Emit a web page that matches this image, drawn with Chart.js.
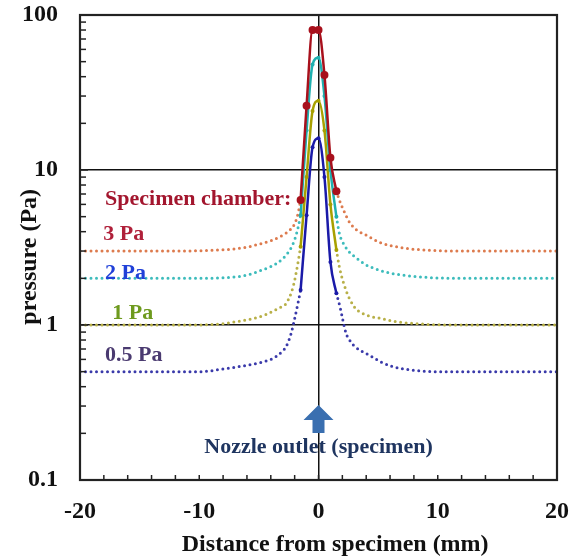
<!DOCTYPE html>
<html>
<head>
<meta charset="utf-8">
<script src="https://cdn.jsdelivr.net/npm/chart.js@4.4.1/dist/chart.umd.min.js"></script>
<style>
  body { margin: 0; background: #fff; }
  #wrap { width: 575px; height: 560px; }
</style>
</head>
<body>
<div id="wrap"><canvas id="pressureChart"></canvas></div>
<script>
// solid measured points around the nozzle (mm, Pa)
const solidX = [-1.5, -1, -0.5, 0, 0.5, 1, 1.5];
const solid3Pa = [6.4, 26, 80, 80, 41, 12, 7.3];
const solid2Pa = [5.1, 18, 48, 53, 30, 10, 5.0];
const solid1Pa = [3.2, 9, 24, 28, 18, 6, 3.05];
const solid05Pa = [1.68, 5.1, 14, 16, 9, 2.55, 1.6];

// dotted tails (left side, right side)
const tail3PaLx = [-20, -12, -9, -7, -6, -5, -4, -3, -2.4, -2, -1.7, -1.5];
const tail3PaLy = [3, 3, 3.03, 3.1, 3.18, 3.32, 3.5, 3.8, 4.1, 4.5, 5.3, 6.4];
const tail3PaRx = [1.5, 1.75, 2.2, 2.6, 3.2, 4, 5.2, 7, 9.5, 12, 20];
const tail3PaRy = [7.3, 6.4, 5.3, 4.6, 4.1, 3.8, 3.4, 3.15, 3.03, 3, 3];

const tail2PaLx = [-20, -10, -8, -6.6, -5.5, -4.9, -4, -3.5, -3, -2.4, -2, -1.7, -1.5];
const tail2PaLy = [2, 2, 2.02, 2.06, 2.15, 2.24, 2.38, 2.5, 2.68, 3.05, 3.55, 4.3, 5.1];
const tail2PaRx = [1.5, 1.75, 2.2, 2.6, 3.2, 4, 5.1, 6, 7, 9.5, 12, 20];
const tail2PaRy = [5.0, 3.9, 3.25, 2.95, 2.7, 2.44, 2.26, 2.16, 2.1, 2.02, 2, 2];

const tail1PaLx = [-20, -10, -8, -6.6, -5.5, -4.5, -3.8, -3.2, -2.7, -2.1, -1.75, -1.5];
const tail1PaLy = [1, 1, 1.02, 1.06, 1.1, 1.16, 1.23, 1.3, 1.38, 1.8, 2.45, 3.2];
const tail1PaRx = [1.5, 1.75, 2.3, 3, 4, 5.3, 6.5, 8.2, 11, 20];
const tail1PaRy = [3.05, 2.37, 1.68, 1.31, 1.16, 1.1, 1.05, 1.02, 1, 1];

const tail05PaLx = [-20, -10, -8, -6.6, -5, -4, -3.5, -3, -2.7, -2.3, -2, -1.75, -1.5];
const tail05PaLy = [0.5, 0.5, 0.52, 0.54, 0.57, 0.6, 0.63, 0.68, 0.73, 0.88, 1.1, 1.35, 1.68];
const tail05PaRx = [1.5, 1.8, 2.3, 2.7, 3.1, 4.25, 5.2, 6.2, 8, 10, 20];
const tail05PaRy = [1.6, 1.31, 0.89, 0.78, 0.72, 0.64, 0.58, 0.54, 0.51, 0.5, 0.5];

const yLabels = ['0.1', '1', '10', '100'];
const xLabels = ['-20', '-10', '0', '10', '20'];
const xTitle = 'Distance from specimen (mm)';
const yTitle = 'pressure (Pa)';

const serif = '"Liberation Serif", "Times New Roman", serif';

function pts(xs, ys) {
    return xs.map((x, i) => ({ x: x, y: ys[i] }));
}
function tail(lx, ly, rx, ry) {
    return pts(lx, ly).concat([{ x: 0, y: null }], pts(rx, ry));
}

function solidSet(label, data, color, radius) {
    return {
        label: label,
        data: pts(solidX, data),
        borderColor: color,
        backgroundColor: color,
        borderWidth: 2.5,
        pointRadius: radius,
        pointBorderWidth: 0,
        cubicInterpolationMode: 'monotone'
    };
}
function dottedSet(label, data, color) {
    return {
        label: label,
        data: data,
        borderColor: color,
        borderWidth: 3,
        borderDash: [0, 5.5],
        borderCapStyle: 'round',
        pointRadius: 0,
        spanGaps: false,
        cubicInterpolationMode: 'monotone'
    };
}

const isPow10 = v => Math.abs(Math.log10(v) - Math.round(Math.log10(v))) < 1e-6;

const extras = {
    id: 'extras',
    afterDraw(chart) {
        const c = chart.ctx;
        const a = chart.chartArea;
        const xs = chart.scales.x, ys = chart.scales.y;
        c.save();
        // inward ticks
        c.strokeStyle = '#222';
        c.lineWidth = 1.5;
        for (let v = -20; v <= 20; v += 2) {
            const px = xs.getPixelForValue(v);
            c.beginPath(); c.moveTo(px, a.bottom); c.lineTo(px, a.bottom - 5); c.stroke();
        }
        for (let d = 0.1; d < 100; d *= 10) {
            for (let k = 1; k <= 9; k++) {
                const py = ys.getPixelForValue(d * k);
                c.beginPath(); c.moveTo(a.left, py); c.lineTo(a.left + (k === 1 ? 8 : 6), py); c.stroke();
            }
        }
        // frame
        c.strokeStyle = '#222';
        c.lineWidth = 2.2;
        c.strokeRect(a.left, a.top, a.right - a.left, a.bottom - a.top);

        // axis titles
        c.fillStyle = '#111';
        c.font = 'bold 24px ' + serif;
        c.textAlign = 'center';
        c.textBaseline = 'middle';
        c.fillText(xTitle, a.left + (a.right - a.left) * 0.535, a.bottom + 65);
        c.save();
        c.translate(30, a.top + (a.bottom - a.top) * 0.52);
        c.rotate(-Math.PI / 2);
        c.fillText(yTitle, 0, 0);
        c.restore();

        // annotations
        c.font = 'bold 22px ' + serif;
        c.textAlign = 'left';
        const notes = [
            ['Specimen chamber:', -17.9, 6.5, '#a3162e'],
            ['3 Pa', -18.05, 3.85, '#b0203a'],
            ['2 Pa', -17.9, 2.15, '#2040d8'],
            ['1 Pa', -17.3, 1.19, '#6e9a1e'],
            ['0.5 Pa', -17.9, 0.64, '#4a3a70']
        ];
        notes.forEach(n => {
            c.fillStyle = n[3];
            c.fillText(n[0], xs.getPixelForValue(n[1]), ys.getPixelForValue(n[2]));
        });

        // nozzle arrow
        const ax = xs.getPixelForValue(0);
        const aTop = ys.getPixelForValue(0.305);
        const aBot = ys.getPixelForValue(0.201);
        c.fillStyle = '#3a6fb0';
        c.beginPath();
        c.moveTo(ax, aTop);
        c.lineTo(ax + 15, aTop + 15);
        c.lineTo(ax + 6, aTop + 15);
        c.lineTo(ax + 6, aBot);
        c.lineTo(ax - 6, aBot);
        c.lineTo(ax - 6, aTop + 15);
        c.lineTo(ax - 15, aTop + 15);
        c.closePath();
        c.fill();
        c.fillStyle = '#1f3560';
        c.textAlign = 'center';
        c.fillText('Nozzle outlet (specimen)', ax, ys.getPixelForValue(0.163));
        c.restore();
    }
};

new Chart(document.getElementById('pressureChart'), {
    type: 'line',
    data: {
        datasets: [
            solidSet('3 Pa', solid3Pa, '#a8101c', 4),
            solidSet('2 Pa', solid2Pa, '#1fb0b0', 2),
            solidSet('1 Pa', solid1Pa, '#a8a000', 2),
            solidSet('0.5 Pa', solid05Pa, '#1a1aa8', 2),
            dottedSet('3 Pa tail', tail(tail3PaLx, tail3PaLy, tail3PaRx, tail3PaRy), '#dd7b4e'),
            dottedSet('2 Pa tail', tail(tail2PaLx, tail2PaLy, tail2PaRx, tail2PaRy), '#3dbcbc'),
            dottedSet('1 Pa tail', tail(tail1PaLx, tail1PaLy, tail1PaRx, tail1PaRy), '#b8b048'),
            dottedSet('0.5 Pa tail', tail(tail05PaLx, tail05PaLy, tail05PaRx, tail05PaRy), '#3a3aaa')
        ]
    },
    options: {
        responsive: true,
        maintainAspectRatio: false,
        animation: false,
        layout: { padding: { top: 15, right: 18, left: 0, bottom: 0 } },
        plugins: { legend: { display: false }, tooltip: { enabled: false } },
        scales: {
            x: {
                type: 'linear',
                min: -20,
                max: 20,
                afterFit: s => { s.height = 80; s.paddingLeft = 0; s.paddingRight = 0; },
                afterBuildTicks: s => { s.ticks = xLabels.map(v => ({ value: Number(v) })); },
                ticks: {
                    callback: v => xLabels.find(l => Number(l) === v) || '',
                    color: '#111',
                    padding: 17,
                    maxRotation: 0,
                    font: { family: serif, size: 24, weight: 'bold' }
                },
                grid: {
                    drawTicks: false,
                    lineWidth: 1.5,
                    color: ctx => ctx.tick && ctx.tick.value === 0 ? '#111' : 'rgba(0,0,0,0)'
                },
                border: { display: false }
            },
            y: {
                type: 'logarithmic',
                min: 0.1,
                max: 100,
                afterFit: s => { s.width = 80; s.paddingTop = 0; s.paddingBottom = 0; },
                afterBuildTicks: s => { s.ticks = yLabels.map(v => ({ value: Number(v) })); },
                ticks: {
                    callback: v => isPow10(v) ? String(v) : '',
                    color: '#111',
                    padding: 22,
                    font: { family: serif, size: 24, weight: 'bold' }
                },
                grid: {
                    drawTicks: false,
                    lineWidth: 1.5,
                    color: ctx => ctx.tick && (ctx.tick.value === 1 || ctx.tick.value === 10) ? '#111' : 'rgba(0,0,0,0)'
                },
                border: { display: false }
            }
        }
    },
    plugins: [extras]
});
</script>
</body>
</html>
